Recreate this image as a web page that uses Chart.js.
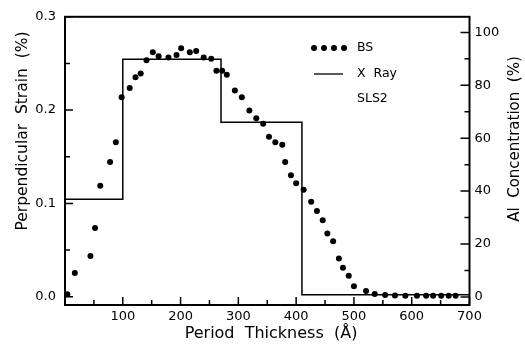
<!DOCTYPE html>
<html>
<head>
<meta charset="utf-8">
<script src="https://cdn.jsdelivr.net/npm/chart.js@4/dist/chart.umd.min.js"></script>
<style>
  html, body { margin: 0; padding: 0; background: #fff; }
  #wrap { width: 525px; height: 348px; }
</style>
</head>
<body>
<div id="wrap"><canvas id="chart" width="525" height="348"></canvas></div>
<script>
// Backscattering (BS) Al concentration profile
const thicknessBS = [4, 17, 44, 52, 61, 78, 88, 98, 112, 122, 131, 141, 152, 162, 179, 193, 201, 216, 227, 240,
  253, 262, 272, 280, 294, 306, 319, 331, 343, 353, 364, 376, 381, 391, 400, 413, 426, 436, 446, 454,
  464, 474, 481, 491, 500, 521, 536, 554, 571, 589, 609, 625, 637, 651, 664, 676];
const alBS = [1, 9, 15.5, 26, 42, 51, 58.5, 75.5, 79, 83, 84.5, 89.5, 92.5, 91, 90.5, 91.5, 94, 92.5, 93, 90.5,
  90, 85.5, 85.5, 84, 78, 75.5, 70.5, 67.5, 65.5, 60.5, 58.5, 57.5, 51, 46, 43, 40.5, 36, 32.5, 29, 24,
  21, 14.5, 11, 8, 4, 2.2, 1.1, 0.7, 0.5, 0.4, 0.4, 0.4, 0.4, 0.4, 0.4, 0.4];

// X-ray strain profile: layer edges and strain level in each layer
const stepEdges = [0, 100, 270, 410, 700];
const stepStrain = [0.1045, 0.2546, 0.187, 0.002];

// ticks (all marks) and which of them carry a label
const xTicks = [50, 100, 150, 200, 250, 300, 350, 400, 450, 500, 550, 600, 650, 700];
const xLabels = [100, 200, 300, 400, 500, 600, 700];
const strainTicks = [0, 0.05, 0.1, 0.15, 0.2, 0.25, 0.3];
const strainLabels = [0, 0.1, 0.2, 0.3];
const alTicks = [0, 10, 20, 30, 40, 50, 60, 70, 80, 90, 100];
const alLabels = [0, 20, 40, 60, 80, 100];

const FONT = "'DejaVu Sans', sans-serif";

const stepPoints = [];
stepStrain.forEach((v, i) => {
  stepPoints.push({ x: stepEdges[i], y: v });
  stepPoints.push({ x: stepEdges[i + 1], y: v });
});

const has = (list, v) => list.some((l) => Math.abs(l - v) < 1e-9);

// frame, inward tick marks, legend and axis titles
const decor = {
  id: "decor",
  afterDraw(chart) {
    const { ctx, chartArea: a, scales } = chart;
    ctx.save();
    ctx.strokeStyle = "#000";
    ctx.lineWidth = 2;
    ctx.strokeRect(a.left, a.top, a.right - a.left, a.bottom - a.top);

    ctx.lineWidth = 1.5;
    ctx.beginPath();
    xTicks.forEach((v) => {
      const px = scales.x.getPixelForValue(v);
      const len = has(xLabels, v) ? 8 : 5;
      ctx.moveTo(px, a.bottom); ctx.lineTo(px, a.bottom - len);
    });
    strainTicks.forEach((v) => {
      const py = scales.yStrain.getPixelForValue(v);
      const len = has(strainLabels, v) ? 8 : 5;
      ctx.moveTo(a.left, py); ctx.lineTo(a.left + len, py);
    });
    alTicks.forEach((v) => {
      const py = scales.yAl.getPixelForValue(v);
      const len = has(alLabels, v) ? 9 : 5;
      ctx.moveTo(a.right, py); ctx.lineTo(a.right - len, py);
    });
    ctx.stroke();

    // legend
    ctx.fillStyle = "#000";
    [314, 324, 334, 344].forEach((x) => {
      ctx.beginPath(); ctx.arc(x, 48, 3, 0, Math.PI * 2); ctx.fill();
    });
    ctx.lineWidth = 1.3;
    ctx.beginPath(); ctx.moveTo(314, 74); ctx.lineTo(343, 74); ctx.stroke();
    ctx.font = "12.5px " + FONT;
    ctx.textBaseline = "middle";
    ctx.textAlign = "left";
    ctx.fillText("BS", 357, 48);
    ctx.fillText("X  Ray", 357, 74);
    ctx.fillText("SLS2", 357, 99);

    // axis titles
    ctx.textAlign = "center";
    ctx.font = "16px " + FONT;
    ctx.fillText("Period  Thickness  (Å)", 271, 334);
    ctx.font = "15.5px " + FONT;
    ctx.save();
    ctx.translate(23, 131); ctx.rotate(-Math.PI / 2);
    ctx.fillText("Perpendicular  Strain  (%)", 0, 0);
    ctx.restore();
    ctx.font = "15px " + FONT;
    ctx.save();
    ctx.translate(515, 139); ctx.rotate(-Math.PI / 2);
    ctx.fillText("Al  Concentration  (%)", 0, 0);
    ctx.restore();
    ctx.restore();
  },
};

const tickFont = { family: FONT, size: 13 };

new Chart(document.getElementById("chart"), {
  type: "scatter",
  data: {
    datasets: [
      {
        label: "BS",
        data: thicknessBS.map((t, i) => ({ x: t, y: alBS[i] })),
        yAxisID: "yAl",
        pointRadius: 3,
        pointBackgroundColor: "#000",
        pointBorderWidth: 0,
        showLine: false,
      },
      {
        label: "X Ray",
        data: stepPoints,
        yAxisID: "yStrain",
        showLine: true,
        borderColor: "#000",
        borderWidth: 1.5,
        pointRadius: 0,
        tension: 0,
      },
    ],
  },
  options: {
    responsive: false,
    animation: false,
    layout: { padding: { top: 10, left: 0, right: 0, bottom: 0 } },
    plugins: { legend: { display: false }, tooltip: { enabled: false } },
    scales: {
      x: {
        type: "linear",
        min: 0,
        max: 700,
        grid: { display: false, drawTicks: false },
        border: { display: false },
        afterBuildTicks: (s) => { s.ticks = xTicks.map((v) => ({ value: v })); },
        afterFit: (s) => { s.height = 43; },
        ticks: {
          color: "#000",
          font: tickFont,
          padding: 4,
          maxRotation: 0,
          autoSkip: false,
          callback: (v) => (has(xLabels, v) ? String(v) : ""),
        },
      },
      yStrain: {
        type: "linear",
        position: "left",
        min: -0.0089,
        max: 0.3,
        grid: { display: false, drawTicks: false },
        border: { display: false },
        afterBuildTicks: (s) => { s.ticks = strainTicks.map((v) => ({ value: v })); },
        afterFit: (s) => { s.width = 65; },
        ticks: {
          color: "#000",
          font: tickFont,
          padding: 9,
          autoSkip: false,
          callback: (v) => (has(strainLabels, v) ? v.toFixed(1) : ""),
        },
      },
      yAl: {
        type: "linear",
        position: "right",
        min: -3.07,
        max: 105.9,
        grid: { display: false, drawTicks: false },
        border: { display: false },
        afterBuildTicks: (s) => { s.ticks = alTicks.map((v) => ({ value: v })); },
        afterFit: (s) => { s.width = 55.5; },
        ticks: {
          color: "#000",
          font: tickFont,
          padding: 5,
          autoSkip: false,
          callback: (v) => (has(alLabels, v) ? String(v) : ""),
        },
      },
    },
  },
  plugins: [decor],
});
</script>
</body>
</html>
